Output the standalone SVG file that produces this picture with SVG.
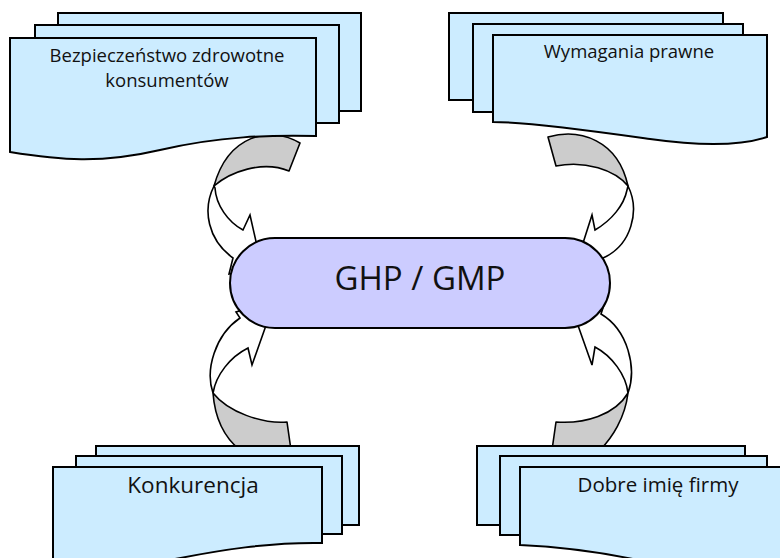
<svg xmlns="http://www.w3.org/2000/svg" width="780" height="558" viewBox="0 0 780 558">
<style>
.doc{fill:#CCECFF;stroke:#000;stroke-width:2;stroke-linejoin:miter}
.band{fill:#CCCCCC;stroke:#000;stroke-width:1.6;stroke-linejoin:round}
.body{fill:#FFFFFF;stroke:#000;stroke-width:1.6;stroke-linejoin:miter}
.t{font-family:"Open Sans","DejaVu Sans",sans-serif;fill:#111;text-anchor:middle}
</style>
<rect width="780" height="558" fill="#FFFFFF"/>
<g id="connectors">
  <g id="arrow-tl">
    <path class="band" d="M300,143 C270,125 228,135 214,186 C230,172 262,160 289,171 Z"/>
    <path class="body" d="M214,186 C202,210 208,240 233,258 L229,274 L262,268 L250,215 L243,230 C228,222 216,205 215,188 Z"/>
  </g>
  <g id="arrow-tr">
    <path class="band" d="M548,137 C580,128 618,140 628,186 C615,170 585,160 556,166 Z"/>
    <path class="body" d="M628,186 C640,210 632,245 603,258 L606,272 L575,268 L592,215 L595,230 C612,220 624,205 627,190 Z"/>
  </g>
  <g id="arrow-bl">
    <path class="band" d="M213,393 C215,420 225,438 240,450 L291,450 L287,422 C262,424 228,412 213,393 Z"/>
    <path class="body" d="M275,300 L236,312 L240,318 C215,335 205,370 213,393 C216,375 230,357 248,348 L252,365 Z"/>
  </g>
  <g id="arrow-br">
    <path class="band" d="M628,393 C625,418 612,438 600,450 L552,450 L556,422 C585,424 615,415 628,393 Z"/>
    <path class="body" d="M569,300 L604,305 L601,314 C628,330 637,368 628,393 C626,375 612,356 595,347 L592,365 Z"/>
  </g>
</g>
<g id="doc-bezpieczenstwo">
  <rect class="doc" x="58" y="13" width="303" height="98"/>
  <rect class="doc" x="35" y="25" width="304" height="98"/>
  <path class="doc" d="M10,38 H316 V136 C270,135 220,136 160,150 C100,164 60,160 10,152 Z"/>
  <text class="t" x="167" y="62" font-size="18.5">Bezpieczeństwo zdrowotne</text>
  <text class="t" x="167" y="87" font-size="18.5">konsumentów</text>
</g>
<g id="doc-wymagania">
  <rect class="doc" x="449" y="13" width="274" height="87"/>
  <rect class="doc" x="473" y="24" width="270" height="88"/>
  <path class="doc" d="M493,35 H767 V137 C740,146 700,146 650,139 C600,132 530,122 493,122 Z"/>
  <text class="t" x="629" y="58" font-size="18.5">Wymagania prawne</text>
</g>
<g id="doc-konkurencja">
  <rect class="doc" x="96" y="446" width="263" height="79"/>
  <rect class="doc" x="76" y="456" width="266" height="78"/>
  <path class="doc" d="M53,467 H322 V543 C270,542 220,550 170,560 C120,570 80,570 53,565 Z"/>
  <text class="t" x="193" y="493" font-size="22.5">Konkurencja</text>
</g>
<g id="doc-dobre-imie">
  <rect class="doc" x="477" y="446" width="268" height="79"/>
  <rect class="doc" x="500" y="456" width="267" height="79"/>
  <path class="doc" d="M520,467 H800 V590 L660,565 C610,553 565,547 520,545 Z"/>
  <text class="t" x="658" y="492" font-size="20.5">Dobre imię firmy</text>
</g>
<g id="ghp-gmp">
  <rect x="230" y="238" width="380" height="90" rx="45" ry="45" fill="#CCCCFF" stroke="#000" stroke-width="2"/>
  <text class="t" x="420" y="290" font-size="33">GHP / GMP</text>
</g>
</svg>
